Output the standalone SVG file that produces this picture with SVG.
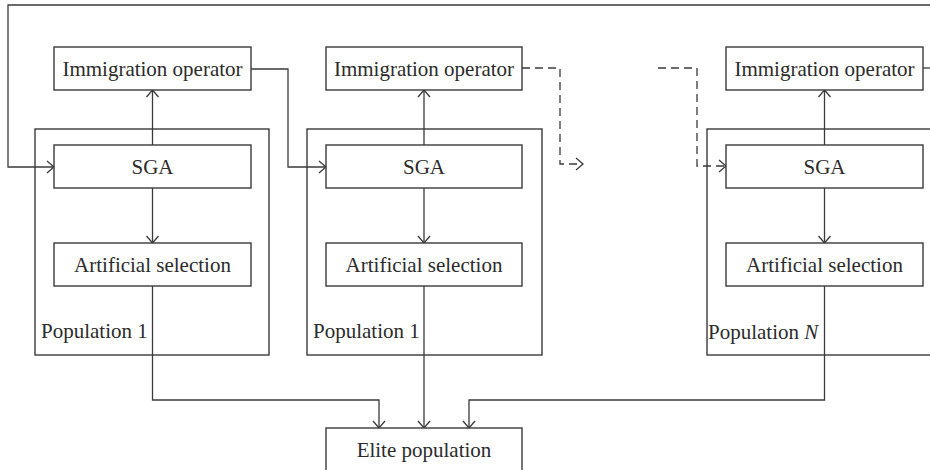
<svg xmlns="http://www.w3.org/2000/svg" width="930" height="470" viewBox="0 0 930 470">
<defs>
<marker id="arr" markerUnits="userSpaceOnUse" markerWidth="20" markerHeight="20" viewBox="-10 -10 20 20" refX="0" refY="0" orient="auto">
<path d="M-7,-6 L0,0 L-7,6" fill="none" stroke="#3a3a3a" stroke-width="1.3"/>
</marker>
</defs>
<style>
.box{fill:#fff;stroke:#3a3a3a;stroke-width:1.4}
.pop{fill:none;stroke:#3a3a3a;stroke-width:1.4}
.t{font-family:"Liberation Serif",serif;font-size:21px;fill:#2b2b2b}
.c{text-anchor:middle}
.ln{fill:none;stroke:#3a3a3a;stroke-width:1.3}
.dash{stroke-dasharray:8 5}
</style>
<rect width="930" height="470" fill="#fff"/>

<g id="population1">
<rect class="pop" x="35" y="129" width="234" height="226"/>
<text class="t" x="41" y="338">Population 1</text>
</g>
<g id="population2">
<rect class="pop" x="307" y="129" width="235" height="226"/>
<text class="t" x="313" y="338">Population 1</text>
</g>
<g id="populationN">
<rect class="pop" x="707" y="129" width="240" height="226"/>
<text class="t" x="708" y="339">Population <tspan font-style="italic">N</tspan></text>
</g>

<g id="connectors">
<path class="ln" d="M152.5,145 V90" marker-end="url(#arr)"/>
<path class="ln" d="M152.5,188 V243" marker-end="url(#arr)"/>
<path class="ln" d="M424,145 V90" marker-end="url(#arr)"/>
<path class="ln" d="M424,188 V243" marker-end="url(#arr)"/>
<path class="ln" d="M824.5,145 V90" marker-end="url(#arr)"/>
<path class="ln" d="M824.5,188 V243" marker-end="url(#arr)"/>
<path class="ln" d="M251,69 H288 V167 H326" marker-end="url(#arr)"/>
<path class="ln" d="M932,5 H8 V167 H54" marker-end="url(#arr)"/>
<path class="ln" d="M923,68 H932"/>
<path class="ln dash" d="M522,68 H560 V164 H583" marker-end="url(#arr)"/>
<path class="ln dash" d="M658,68 H697 V166 H726" marker-end="url(#arr)"/>
<path class="ln" d="M152.5,286 V400 H379 V428" marker-end="url(#arr)"/>
<path class="ln" d="M424,286 V428" marker-end="url(#arr)"/>
<path class="ln" d="M824.5,286 V400 H469 V428" marker-end="url(#arr)"/>
</g>

<g id="immig1"><rect class="box" x="54" y="47" width="197" height="43"/><text class="t c" x="152.5" y="76">Immigration operator</text></g>
<g id="sga1"><rect class="box" x="54" y="145" width="197" height="43"/><text class="t c" x="152.5" y="174">SGA</text></g>
<g id="art1"><rect class="box" x="54" y="243" width="197" height="43"/><text class="t c" x="152.5" y="272">Artificial selection</text></g>

<g id="immig2"><rect class="box" x="326" y="47" width="196" height="43"/><text class="t c" x="424" y="76">Immigration operator</text></g>
<g id="sga2"><rect class="box" x="326" y="145" width="196" height="43"/><text class="t c" x="424" y="174">SGA</text></g>
<g id="art2"><rect class="box" x="326" y="243" width="196" height="43"/><text class="t c" x="424" y="272">Artificial selection</text></g>

<g id="immigN"><rect class="box" x="726" y="47" width="197" height="43"/><text class="t c" x="824.5" y="76">Immigration operator</text></g>
<g id="sgaN"><rect class="box" x="726" y="145" width="197" height="43"/><text class="t c" x="824.5" y="174">SGA</text></g>
<g id="artN"><rect class="box" x="726" y="243" width="197" height="43"/><text class="t c" x="824.5" y="272">Artificial selection</text></g>

<g id="elite"><rect class="box" x="326" y="428" width="196" height="50"/><text class="t c" x="424" y="457">Elite population</text></g>
</svg>
